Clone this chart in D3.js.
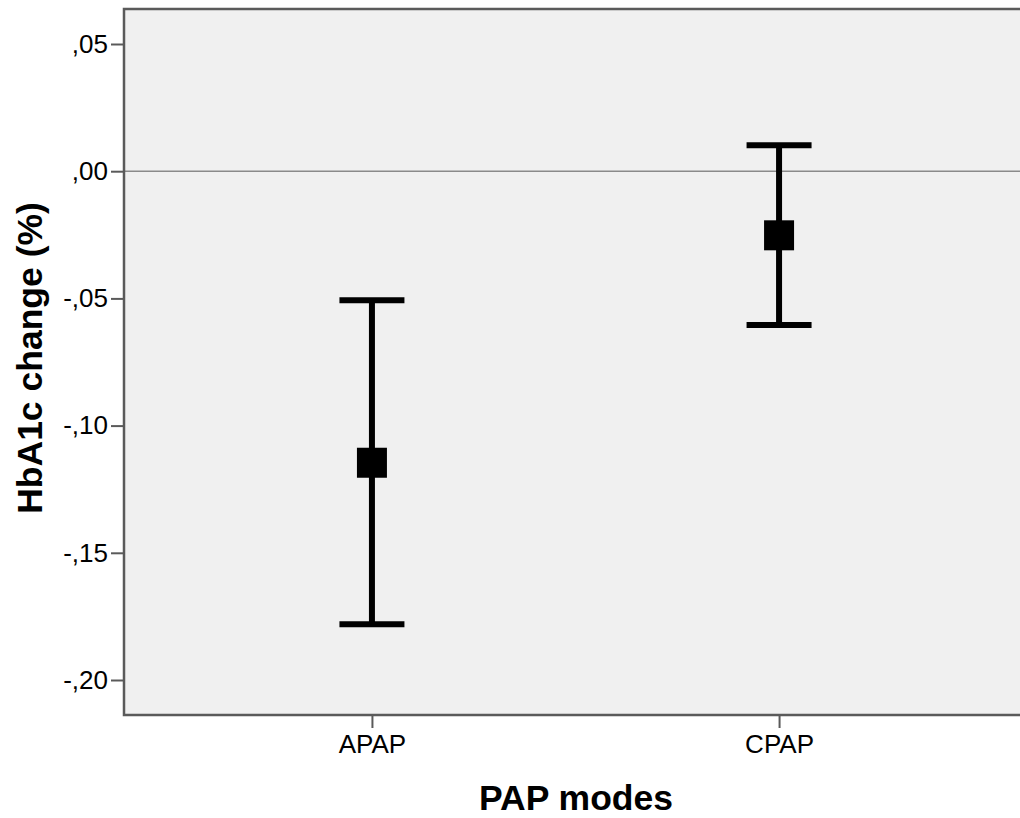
<!DOCTYPE html>
<html>
<head>
<meta charset="utf-8">
<script src="https://cdn.jsdelivr.net/npm/d3@7"></script>
<style>
  html, body { margin: 0; padding: 0; background: #ffffff; }
  svg { display: block; }
</style>
</head>
<body>
<svg id="chart" width="1020" height="818"></svg>
<script>
// ---- data ----
const categories = ["APAP", "CPAP"];
const meanValues = [-0.1146, -0.0252];
const lowerCI = [-0.1781, -0.0605];
const upperCI = [-0.0507, 0.0102];
const yTickValues = [0.05, 0.00, -0.05, -0.10, -0.15, -0.20];
const yTickLabels = [",05", ",00", "-,05", "-,10", "-,15", "-,20"];
const xTitle = "PAP modes";
const yTitle = "HbA1c change (%)";

// ---- layout ----
const svg = d3.select("#chart");
const plot = { left: 124, right: 1027, top: 9, bottom: 715 };

const y = d3.scaleLinear()
  .domain([-0.20, 0.05])
  .range([680, 44]);

const x = d3.scalePoint()
  .domain(categories)
  .range([plot.left, plot.right])
  .padding(0.609);

const font = "Arial, 'Liberation Sans', Helvetica, sans-serif";

// background
svg.append("rect")
  .attr("x", plot.left).attr("y", plot.top)
  .attr("width", plot.right - plot.left)
  .attr("height", plot.bottom - plot.top)
  .attr("fill", "#f0f0f0");

// zero reference line
svg.append("line")
  .attr("x1", plot.left).attr("x2", plot.right)
  .attr("y1", y(0)).attr("y2", y(0))
  .attr("stroke", "#8a8a8a").attr("stroke-width", 1.5);

// frame
svg.append("rect")
  .attr("x", plot.left).attr("y", plot.top)
  .attr("width", plot.right - plot.left)
  .attr("height", plot.bottom - plot.top)
  .attr("fill", "none")
  .attr("stroke", "#5a5a5a").attr("stroke-width", 2.5);

// y axis
const yAxis = d3.axisLeft(y)
  .tickValues(yTickValues)
  .tickSize(13)
  .tickPadding(3)
  .tickFormat((d, i) => yTickLabels[i]);

const gy = svg.append("g")
  .attr("transform", `translate(${plot.left},0)`)
  .call(yAxis);
gy.select(".domain").remove();
gy.selectAll(".tick line").attr("stroke", "#5a5a5a").attr("stroke-width", 2);
gy.selectAll(".tick text")
  .attr("font-family", font).attr("font-size", 26)
  .attr("fill", "#000");

// x axis
const xAxis = d3.axisBottom(x).tickSize(13).tickPadding(7);
const gx = svg.append("g")
  .attr("transform", `translate(0,${plot.bottom})`)
  .call(xAxis);
gx.select(".domain").remove();
gx.selectAll(".tick line").attr("stroke", "#5a5a5a").attr("stroke-width", 2);
gx.selectAll(".tick text")
  .attr("font-family", font).attr("font-size", 26)
  .attr("fill", "#000");

// error bars
const capHalf = 32.5;
const eb = svg.append("g").selectAll("g")
  .data(categories.map((c, i) => ({ c, m: meanValues[i], lo: lowerCI[i], hi: upperCI[i] })))
  .join("g");

eb.append("line")
  .attr("x1", d => x(d.c)).attr("x2", d => x(d.c))
  .attr("y1", d => y(d.hi)).attr("y2", d => y(d.lo))
  .attr("stroke", "#000").attr("stroke-width", 6);
eb.append("line")
  .attr("x1", d => x(d.c) - capHalf).attr("x2", d => x(d.c) + capHalf)
  .attr("y1", d => y(d.hi)).attr("y2", d => y(d.hi))
  .attr("stroke", "#000").attr("stroke-width", 6);
eb.append("line")
  .attr("x1", d => x(d.c) - capHalf).attr("x2", d => x(d.c) + capHalf)
  .attr("y1", d => y(d.lo)).attr("y2", d => y(d.lo))
  .attr("stroke", "#000").attr("stroke-width", 6);
eb.append("rect")
  .attr("x", d => x(d.c) - 15).attr("y", d => y(d.m) - 15)
  .attr("width", 30).attr("height", 30)
  .attr("fill", "#000");

// axis titles
svg.append("text")
  .attr("x", 576)
  .attr("y", 810)
  .attr("text-anchor", "middle")
  .attr("font-family", font).attr("font-size", 35.5).attr("font-weight", "bold")
  .attr("fill", "#000")
  .text(xTitle);

svg.append("text")
  .attr("transform", "translate(42,358) rotate(-90)")
  .attr("text-anchor", "middle")
  .attr("font-family", font).attr("font-size", 35.5).attr("font-weight", "bold")
  .attr("fill", "#000")
  .text(yTitle);
</script>
</body>
</html>
